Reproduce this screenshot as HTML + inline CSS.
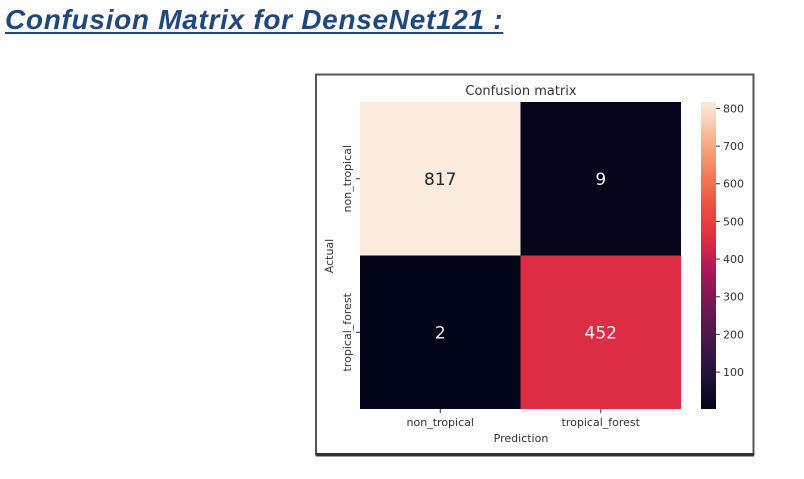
<!DOCTYPE html>
<html><head><meta charset="utf-8"><style>
html,body{margin:0;padding:0;background:#fff;width:804px;height:479px;overflow:hidden}
#heading{position:absolute;left:5px;top:4px;font-family:"Liberation Sans",sans-serif;font-weight:bold;font-style:italic;font-size:28px;color:#1f497d;text-decoration:underline;text-decoration-thickness:2px;text-underline-offset:3px;letter-spacing:0.7px;white-space:nowrap}
svg{position:absolute;left:0;top:0}
text{font-family:"DejaVu Sans","Liberation Sans",sans-serif;fill:#333}
</style></head><body>
<div id="heading">Confusion Matrix for DenseNet121 :</div>
<svg id="chart" width="804" height="479">
<rect x="316" y="74.5" width="437.5" height="380" fill="#fff" stroke="#555" stroke-width="2"/>
<rect x="316" y="453" width="438" height="3.5" fill="#333"/>
<defs><linearGradient id="cbg" x1="0" y1="1" x2="0" y2="0"></linearGradient></defs>
<g id="cells"></g>
<g id="cbar"></g>
<text x="521" y="95" text-anchor="middle" font-size="13">Confusion matrix</text>
<text x="521" y="442" text-anchor="middle" font-size="11">Prediction</text>
<text transform="translate(333,256) rotate(-90)" text-anchor="middle" font-size="11">Actual</text>
</svg>
<script>
const categories = ["non_tropical","tropical_forest"];
const matrix = [[817,9],[2,452]];
const cbTicks = [100,200,300,400,500,600,700,800];
const NS="http://www.w3.org/2000/svg";
const L=360,R=681,T=102,B=409;
const vals=matrix.flat();
const vmin=Math.min(...vals), vmax=Math.max(...vals);
const stops=[[0,[3,5,26]],[0.15,[45,23,65]],[0.3,[98,25,80]],[0.45,[170,24,88]],[0.55,[221,44,69]],[0.65,[236,76,61]],[0.75,[243,118,81]],[0.85,[246,164,124]],[0.93,[247,205,175]],[1,[250,235,221]]];
function cmap(t){t=Math.max(0,Math.min(1,t));for(let i=1;i<stops.length;i++){if(t<=stops[i][0]){const a=stops[i-1],b=stops[i];const f=(t-a[0])/(b[0]-a[0]);const c=a[1].map((v,k)=>Math.round(v+(b[1][k]-v)*f));return `rgb(${c.join(',')})`;}}return 'rgb(250,235,221)';}
const n=categories.length, cw=(R-L)/n, ch=(B-T)/n;
const xs=i=>L+i*cw, ys=j=>T+j*ch;
const svg=document.getElementById('chart'), cells=document.getElementById('cells'), cbar=document.getElementById('cbar');
function mk(tag,attrs,parent){const e=document.createElementNS(NS,tag);for(const k in attrs)e.setAttribute(k,attrs[k]);parent.appendChild(e);return e;}
matrix.forEach((row,r)=>row.forEach((v,c)=>{
  const t=(v-vmin)/(vmax-vmin);
  const rc=mk('rect',{x:xs(c),y:ys(r),width:cw,height:ch,fill:cmap(t)},cells);
  
  
  const tx=mk('text',{x:xs(c)+cw/2,y:ys(r)+ch/2+6,'text-anchor':'middle','font-size':'17'},cells);
  tx.style.fill=t>0.6?'#262626':'#f2f2f2';
  tx.textContent=v;
  
  
}));
categories.forEach((c,i)=>{
  const cx=xs(i)+cw/2;
  const tk=mk('line',{x1:cx,x2:cx,y1:B,y2:B+4,stroke:'#333'},svg);
  
  
  const lb=mk('text',{x:cx,y:B+17,'text-anchor':'middle','font-size':'11'},svg);
  lb.textContent=c;
  
  
  const cy=ys(i)+ch/2;
  const tk2=mk('line',{x1:L-4,x2:L,y1:cy,y2:cy,stroke:'#333'},svg);
  
  
  const lb2=mk('text',{transform:`translate(${L-9},${cy}) rotate(-90)`,'text-anchor':'middle','font-size':'11'},svg);
  lb2.textContent=c;
  
  
});
const grad=document.getElementById('cbg');
stops.forEach(s=>mk('stop',{offset:s[0],'stop-color':cmap(s[0])},grad));
const CL=701,CW=15;
const cbScale=v=>B-(v-vmin)/(vmax-vmin)*(B-T);
const cb=mk('rect',{x:CL,y:T,width:CW,height:B-T,fill:'url(#cbg)'},cbar);


cbTicks.forEach(v=>{
  const y=cbScale(v);
  const tk=mk('line',{x1:CL+CW,x2:CL+CW+4,y1:y,y2:y,stroke:'#333'},cbar);
  
  
  const lb=mk('text',{x:CL+CW+7,y:y+4,'font-size':'11'},cbar);
  lb.textContent=v;
  
  
});
</script>
</body></html>
